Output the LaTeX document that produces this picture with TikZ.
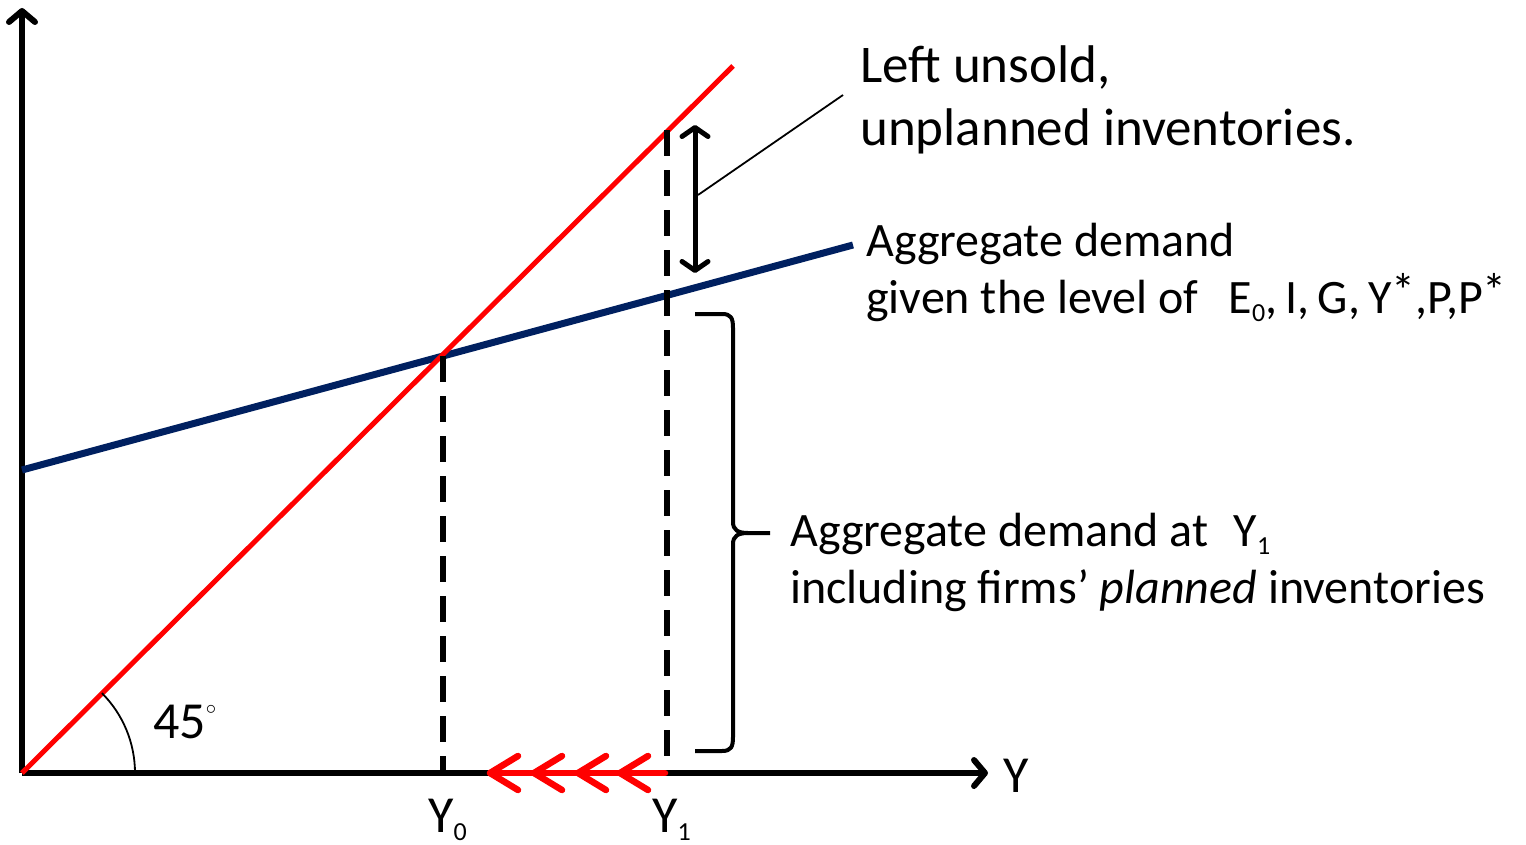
\documentclass[tikz,border=0pt]{standalone}
\usepackage{fontspec}
\setmainfont{Carlito}
\usetikzlibrary{arrows.meta}
\definecolor{adblue}{RGB}{0,32,96}
\definecolor{fortyfive}{RGB}{255,0,0}
\newcommand{\myast}{\raisebox{0.12em}{*}}
\begin{document}
\begin{tikzpicture}[x=1bp,y=-1bp,
  axis/.style={line width=6bp,-{Straight Barb[length=11bp,width=26bp,line cap=round,line join=round]}},
  redline/.style={fortyfive,line width=5bp},
  blueline/.style={adblue,line width=7bp},
  dashv/.style={line width=5.5bp,dash pattern=on 26bp off 14bp},
  chev/.style={fortyfive,line width=6.5bp,line cap=round,line join=round},
  thin/.style={line width=1.8bp},
  lbl/.style={anchor=base west,inner sep=0pt,font=\fontsize{48bp}{57bp}\selectfont},
  biglbl/.style={anchor=base west,inner sep=0pt,font=\fontsize{53bp}{63bp}\selectfont},
  axlbl/.style={anchor=base west,inner sep=0pt,font=\fontsize{52bp}{60bp}\selectfont}]
\useasboundingbox (0,0) rectangle (1526,844);
% key points
\coordinate (O) at (22,773);
\coordinate (ytop) at (22,8);
\coordinate (xend) at (988,773);
\coordinate (redend) at (733,66);
\coordinate (adstart) at (22,470);
\coordinate (adend) at (853,245);
\coordinate (e0) at (443,356);
\coordinate (e0b) at (443,773);
\coordinate (y1top) at (667,130);
\coordinate (y1b) at (667,773);
\coordinate (gaptop) at (695,125);
\coordinate (gapbot) at (695,273);
\coordinate (ptrA) at (698,195);
\coordinate (ptrB) at (843,95);
% axes
\draw[axis] (O) -- (ytop);
\draw[axis] (O) -- (xend);
% lines
\draw[blueline] (adstart) -- (adend);
\draw[redline] (O) -- (redend);
% dashed
\draw[dashv] (e0) -- (e0b);
\draw[dashv] (y1top) -- (y1b);
% double arrow
\draw[line width=5bp,{Straight Barb[length=9bp,width=26bp,line cap=round,line join=round]}-{Straight Barb[length=9bp,width=26bp,line cap=round,line join=round]}] (gaptop) -- (gapbot);
\draw[thin] (ptrA) -- (ptrB);
% brace
\draw[line width=4bp,line join=round] (695,314) -- (722,314) .. controls (731,314) and (733,318) .. (733,328)
  -- (733,522) .. controls (733,530) and (738,533) .. (748,533) -- (770,533);
\draw[line width=4bp,line join=round] (695,751) -- (722,751) .. controls (731,751) and (733,747) .. (733,737)
  -- (733,544) .. controls (733,536) and (738,533) .. (748,533);
% 45 arc
\draw[thin] (135,773) arc[start angle=0,end angle=-45,radius=113];
\node[axlbl] (deg) at (153,738) {45\raisebox{0.45em}{\fontsize{22bp}{22bp}\selectfont$\circ$}};
% red arrows
\draw[chev] (665,773) -- (490,773);
\foreach \t in {490,534,578,620}{
  \draw[chev] (\t+28,756) -- (\t,773) -- (\t+28,790);
}
% labels
\node[axlbl] (Ylab) at (1003,792) {Y};
\node[axlbl] (Y0) at (428,832) {Y\textsubscript{\fontsize{26bp}{26bp}\selectfont 0}};
\node[axlbl] (Y1) at (652,832) {Y\textsubscript{\fontsize{26bp}{26bp}\selectfont 1}};
\node[biglbl] (lu1) at (860,82) {Left unsold,};
\node[biglbl] (lu2) at (860,145) {unplanned inventories.};
\node[lbl] (ad1) at (866,256) {Aggregate demand};
\node[lbl] (ad2) at (866,313) {given the level of\hspace{0.4em} E\textsubscript{\fontsize{26bp}{26bp}\selectfont 0},\,I,\,G,\,Y\myast,P,P\myast};
\node[lbl] (at1) at (790,546) {Aggregate demand at\hspace{0.3em} Y\textsubscript{\fontsize{26bp}{26bp}\selectfont 1}};
\node[lbl] (at2) at (790,603) {including firms’ \textit{planned} inventories};
\end{tikzpicture}
\end{document}
